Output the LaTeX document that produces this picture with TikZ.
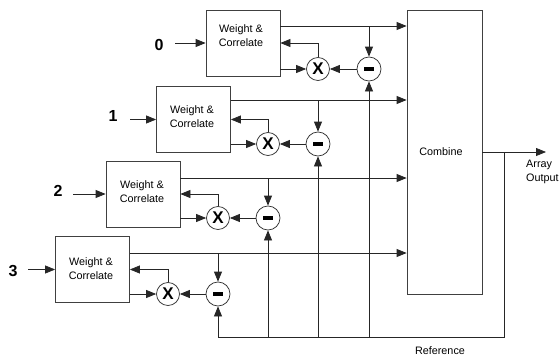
\documentclass[tikz,border=0pt]{standalone}
\usepackage{fontspec}
\setmainfont{Liberation Sans}
\usetikzlibrary{arrows.meta,calc}
\begin{document}
\begin{tikzpicture}[x=1pt,y=-1pt,
  ln/.style={line width=0.75pt, draw=black!85},
  arr/.style={ln, -{Triangle[length=10pt,width=8pt]}},
  wbox/.style={draw=black!75, line width=0.75pt, minimum width=74pt, minimum height=66pt, inner sep=0pt},
  lbl/.style={font=\fontsize{10.8}{14}\selectfont, align=center, inner sep=0pt},
  num/.style={font=\bfseries\fontsize{16}{16}\selectfont, inner sep=0pt},
  xop/.style={circle, draw=black!80, fill=white, line width=0.75pt, minimum size=23pt, inner sep=0pt, font=\bfseries\fontsize{17}{17}\selectfont},
  mop/.style={circle, draw=black!80, fill=white, line width=0.75pt, minimum size=24pt, inner sep=0pt}
]
\useasboundingbox (0,0) rectangle (560,356);

% boxes
\node[wbox] (b0) at (243,43) {};
\node[wbox] (b1) at (193.5,119.5) {};
\node[wbox] (b2) at (143,194) {};
\node[wbox] (b3) at (92.5,269.5) {};
\node[lbl] (t0) at (241,36) {Weight \&\\Correlate};
\node[lbl] (t1) at (192,117) {Weight \&\\Correlate};
\node[lbl] (t2) at (142,192) {Weight \&\\Correlate};
\node[lbl] (t3) at (91,269) {Weight \&\\Correlate};

\node[draw=black!75, line width=0.75pt, minimum width=75pt, minimum height=284pt, inner sep=0pt] (cmb) at (444.5,152) {};
\node[lbl] (ct) at (441,152) {Combine};

% input labels
\node[num] (n0) at (159,45) {0};
\node[num] (n1) at (113,116) {1};
\node[num] (n2) at (58,191) {2};
\node[num] (n3) at (13,271) {3};
\coordinate (i0) at (175,43);
\coordinate (i1) at (130,119.5);
\coordinate (i2) at (73,194);
\coordinate (i3) at (28,269.5);
\draw[arr] (i0) -- (i0 -| b0.west);
\draw[arr] (i1) -- (i1 -| b1.west);
\draw[arr] (i2) -- (i2 -| b2.west);
\draw[arr] (i3) -- (i3 -| b3.west);

% operators
\node[xop] (x0) at (318,69) {X};
\node[xop] (x1) at (268,144) {X};
\node[xop] (x2) at (218,218) {X};
\node[xop] (x3) at (168,294) {X};
\node[mop] (m0) at (369,69) {\rule{9.5pt}{4pt}};
\node[mop] (m1) at (318,144) {\rule{9.5pt}{4pt}};
\node[mop] (m2) at (268,218) {\rule{9.5pt}{4pt}};
\node[mop] (m3) at (218,294) {\rule{9.5pt}{4pt}};

% top output lines
\coordinate (o0) at (280,26);
\coordinate (o1) at (230.5,100);
\coordinate (o2) at (180,178);
\coordinate (o3) at (129.5,253);
\foreach \k in {0,1,2,3}{
  \draw[arr] (o\k) -- (o\k -| cmb.west);
  \draw[arr] (m\k |- o\k) -- (m\k.north);
  \draw[arr] (b\k.east |- x\k) -- (x\k.west);
  \draw[arr] (x\k.north) |- (b\k.east);
  \draw[arr] (m\k.west) -- (x\k.east);
}

% reference
\coordinate (rc) at (504,337);
\coordinate (out) at (546,152);
\draw[arr] (cmb.east |- out) -- (out);
\draw[ln] (rc |- out) -- (rc) -- (rc -| m3);
\foreach \k in {0,1,2,3}{
  \draw[arr] (rc -| m\k) -- (m\k.south);
}
\node[lbl, align=left, anchor=west] (ao) at (526,172) {Array\\Output};
\node[lbl] (rf) at (440,351) {Reference};
\end{tikzpicture}
\end{document}
